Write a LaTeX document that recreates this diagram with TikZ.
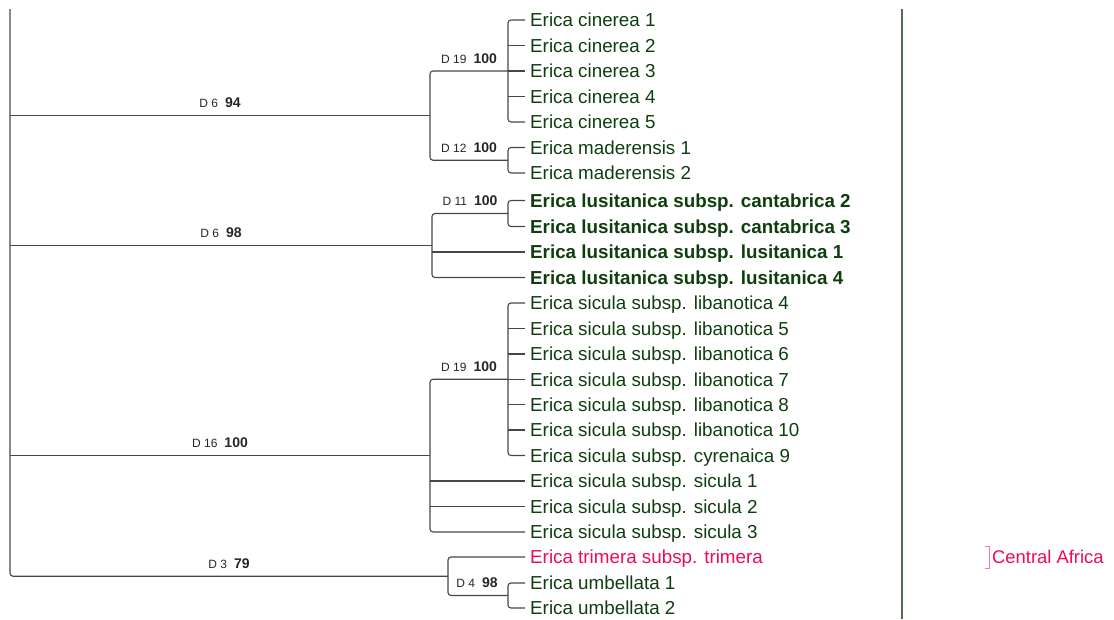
\documentclass[tikz,border=0pt]{standalone}
\usepackage{fontspec}
\setmainfont{Liberation Sans}
\definecolor{leafc}{RGB}{14,62,14}
\definecolor{pinkc}{RGB}{240,8,90}
\definecolor{pinkl}{RGB}{250,120,160}
\definecolor{brc}{RGB}{70,70,70}
\definecolor{glinec}{RGB}{80,112,80}
\begin{document}
\begin{tikzpicture}[x=1pt,y=-1pt,
  tree/.style={draw=brc,line width=1.1pt,rounded corners=3pt},
  leafl/.style={anchor=base west,inner sep=0pt,text=leafc,font=\fontsize{18.8}{20}\selectfont},
  leafb/.style={leafl,font=\fontsize{18.8}{20}\selectfont\bfseries},
  supl/.style={anchor=base,inner sep=0pt,text=black!85,font=\fontsize{12}{12}\selectfont}]
\useasboundingbox (0,0) rectangle (1114,619);
\newcommand{\bs}[1]{\hspace{7pt}{\fontsize{14}{14}\selectfont\bfseries #1}}
% leaves
\node[leafl] (L1) at (530,26.7) {Erica cinerea 1};
\node[leafl] (L2) at (530,52.2) {Erica cinerea 2};
\node[leafl] (L3) at (530,77.7) {Erica cinerea 3};
\node[leafl] (L4) at (530,103.2) {Erica cinerea 4};
\node[leafl] (L5) at (530,128.7) {Erica cinerea 5};
\node[leafl] (L6) at (530,154.2) {Erica maderensis 1};
\node[leafl] (L7) at (530,179.7) {Erica maderensis 2};
\node[leafb] (L8) at (530,207.2) {Erica lusitanica subsp. cantabrica 2};
\node[leafb] (L9) at (530,233.2) {Erica lusitanica subsp. cantabrica 3};
\node[leafb] (L10) at (530,258.7) {Erica lusitanica subsp. lusitanica 1};
\node[leafb] (L11) at (530,284.2) {Erica lusitanica subsp. lusitanica 4};
\node[leafl] (L12) at (530,309.7) {Erica sicula subsp. libanotica 4};
\node[leafl] (L13) at (530,335.2) {Erica sicula subsp. libanotica 5};
\node[leafl] (L14) at (530,360.7) {Erica sicula subsp. libanotica 6};
\node[leafl] (L15) at (530,386.2) {Erica sicula subsp. libanotica 7};
\node[leafl] (L16) at (530,411.2) {Erica sicula subsp. libanotica 8};
\node[leafl] (L17) at (530,436.7) {Erica sicula subsp. libanotica 10};
\node[leafl] (L18) at (530,462.2) {Erica sicula subsp. cyrenaica 9};
\node[leafl] (L19) at (530,487.7) {Erica sicula subsp. sicula 1};
\node[leafl] (L20) at (530,513.2) {Erica sicula subsp. sicula 2};
\node[leafl] (L21) at (530,538.7) {Erica sicula subsp. sicula 3};
\node[leafl,text=pinkc] (L22) at (530,563.7) {Erica trimera subsp. trimera};
\node[leafl] (L23) at (530,589.7) {Erica umbellata 1};
\node[leafl] (L24) at (530,614.7) {Erica umbellata 2};
% tick ends
\foreach \i/\y in {1/20,2/45.5,3/71,4/96.5,5/122,6/147.5,7/173,8/200.5,9/226.5,10/252,11/277.5,12/303,13/328.5,14/354,15/379.5,16/404.5,17/430,18/455.5,19/481,20/506.5,21/532,22/557,23/583,24/608}
  \coordinate (t\i) at (525,\y);
% internal nodes
\coordinate (n19a) at (508,71);
\coordinate (n12) at (508,160.25);
\coordinate (n11) at (508,213.5);
\coordinate (n19b) at (508,379.25);
\coordinate (n4) at (508,595.5);
\coordinate (nA) at (430,115.6);
\coordinate (nB) at (432,245.5);
\coordinate (nC) at (430,455.6);
\coordinate (nD) at (448,576.25);
\coordinate (rtop) at (10,9);
% clade D19 (cinerea)
\draw[tree] (t1) -- (t1 -| n19a) -- (t5 -| n19a) -- (t5);
\foreach \i in {2,3,4} \draw[tree] (t\i -| n19a) -- (t\i);
% D12
\draw[tree] (t6) -- (t6 -| n12) -- (t7 -| n12) -- (t7);
% node A
\draw[tree] (n19a) -- (n19a -| nA) -- (n12 -| nA) -- (n12);
% D11
\draw[tree] (t8) -- (t8 -| n11) -- (t9 -| n11) -- (t9);
% node B
\draw[tree] (n11) -- (n11 -| nB) -- (t11 -| nB) -- (t11);
\draw[tree] (t10 -| nB) -- (t10);
% D19 (sicula)
\draw[tree] (t12) -- (t12 -| n19b) -- (t18 -| n19b) -- (t18);
\foreach \i in {13,14,15,16,17} \draw[tree] (t\i -| n19b) -- (t\i);
% node C
\draw[tree] (n19b) -- (n19b -| nC) -- (t21 -| nC) -- (t21);
\foreach \i in {19,20} \draw[tree] (t\i -| nC) -- (t\i);
% D4
\draw[tree] (t23) -- (t23 -| n4) -- (t24 -| n4) -- (t24);
% node D
\draw[tree] (t22) -- (t22 -| nD) -- (n4 -| nD) -- (n4);
% root
\draw[tree] (rtop) -- (rtop |- nD) -- (nD);
\draw[tree] (nA -| rtop) -- (nA);
\draw[tree] (nB -| rtop) -- (nB);
\draw[tree] (nC -| rtop) -- (nC);
% support labels
\node[supl] (s19a) at (469,63) {D 19\bs{100}};
\node[supl] (s12) at (469,152.25) {D 12\bs{100}};
\node[supl] (s11) at (470,205.5) {D 11\bs{100}};
\node[supl] (s19b) at (469,371.25) {D 19\bs{100}};
\node[supl] (s4) at (477,587.5) {D 4\bs{98}};
\node[supl] (s6a) at (220,107.6) {D 6\bs{94}};
\node[supl] (s6b) at (221,237.5) {D 6\bs{98}};
\node[supl] (s16) at (220,447.6) {D 16\bs{100}};
\node[supl] (s3) at (229,568.25) {D 3\bs{79}};
% right side
\coordinate (gtop) at (902,9);
\coordinate (gbot) at (902,619);
\draw[glinec,line width=1.5pt] (gtop) -- (gbot);
\coordinate (b1) at (985,546);
\coordinate (b2) at (985,568);
\draw[pinkl,line width=1pt] (b1) -- (989,546) -- (989,568) -- (b2);
\node[leafl,text=pinkc,font=\fontsize{18.4}{20}\selectfont] (CA) at (992,563.7) {Central Africa};
\end{tikzpicture}
\end{document}
